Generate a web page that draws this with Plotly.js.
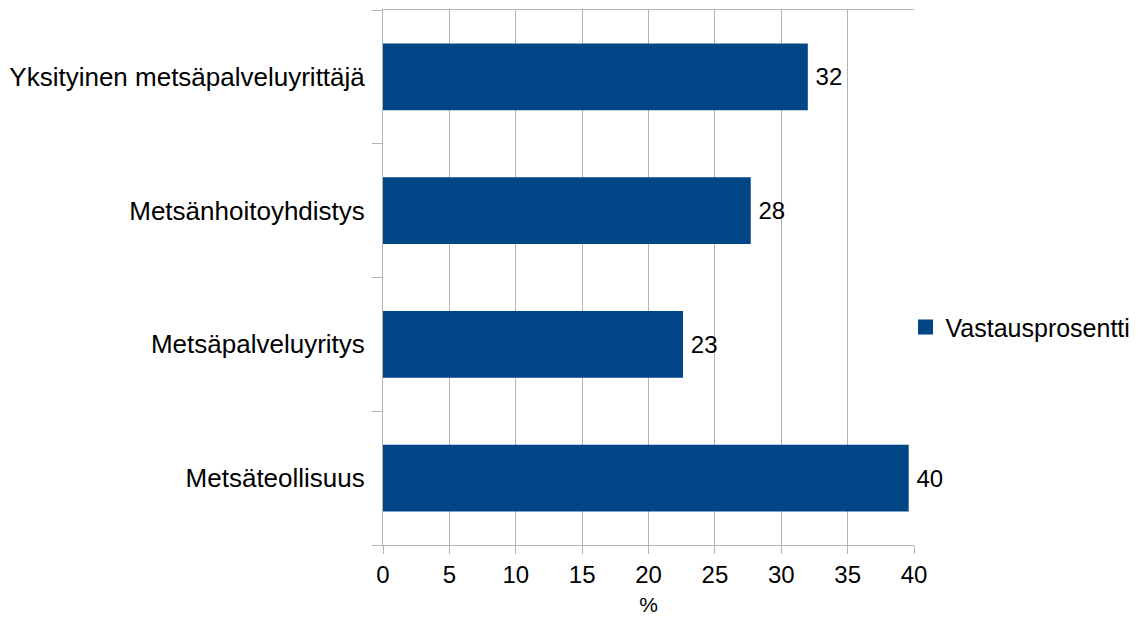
<!DOCTYPE html>
<html>
<head>
<meta charset="utf-8">
<script src="https://cdn.plot.ly/plotly-3.0.1.min.js"></script>
<style>
  html, body { margin: 0; padding: 0; background: #ffffff; }
  #chart { width: 1148px; height: 617px; }
</style>
</head>
<body>
<div id="chart"></div>
<script>
// Respondent groups, listed bottom to top
const categories = [
  "Metsäteollisuus",
  "Metsäpalveluyritys",
  "Metsänhoitoyhdistys",
  "Yksityinen metsäpalveluyrittäjä"
];
// Share of responses, %
const responseShare = [39.6, 22.6, 27.7, 32.0];
const seriesName = "Vastausprosentti";
const xTicks = [0, 5, 10, 15, 20, 25, 30, 35, 40];

const FONT = "Liberation Sans, Arial, sans-serif";
const BAR = "#004586";
const GRID = "#b3b3b3";

const bars = {
  type: "bar",
  orientation: "h",
  name: seriesName,
  y: categories,
  x: responseShare,
  marker: { color: BAR, line: { width: 0 } },
  // thin space keeps the value label a little clear of the bar end
  texttemplate: "\u2009%{x:.0f}",
  textposition: "outside",
  textfont: { family: FONT, size: 24, color: "#000000" },
  cliponaxis: false,
  showlegend: false,
  hoverinfo: "x+y"
};

// legend entry with a slightly larger square swatch
const legendKey = {
  type: "scatter",
  mode: "markers",
  name: seriesName,
  x: [null],
  y: [null],
  marker: { symbol: "square", size: 15, color: BAR, line: { width: 0 } },
  showlegend: true,
  hoverinfo: "skip"
};

const layout = {
  width: 1148,
  height: 617,
  margin: { l: 383, r: 234, t: 10, b: 72, pad: 0 },
  paper_bgcolor: "#ffffff",
  plot_bgcolor: "#ffffff",
  font: { family: FONT, size: 24, color: "#000000" },
  bargap: 0.5,
  xaxis: {
    range: [0, 40],
    tickvals: xTicks,
    ticktext: xTicks.map(String),
    ticks: "outside",
    ticklen: 8,
    tickwidth: 1,
    tickcolor: GRID,
    showgrid: true,
    gridcolor: GRID,
    gridwidth: 1,
    zeroline: false,
    showline: true,
    linecolor: GRID,
    linewidth: 1,
    mirror: true,
    tickfont: { family: FONT, size: 24, color: "#000000" },
    title: { text: "%", font: { family: FONT, size: 21, color: "#000000" }, standoff: 10 },
    fixedrange: true
  },
  yaxis: {
    type: "category",
    categoryorder: "array",
    categoryarray: categories,
    tickson: "boundaries",
    ticks: "outside",
    ticklen: 10,
    tickwidth: 1,
    tickcolor: GRID,
    showgrid: false,
    zeroline: false,
    showline: true,
    linecolor: GRID,
    linewidth: 1,
    tickfont: { family: FONT, size: 26, color: "#000000" },
    ticklabelstandoff: 12,
    fixedrange: true
  },
  showlegend: true,
  legend: {
    x: 0.984,
    xanchor: "left",
    y: 0.407,
    yanchor: "middle",
    font: { family: FONT, size: 25, color: "#000000" },
    itemwidth: 30,
    bgcolor: "rgba(0,0,0,0)",
    borderwidth: 0
  }
};

Plotly.newPlot("chart", [bars, legendKey], layout, { displayModeBar: false, staticPlot: true });
</script>
</body>
</html>
